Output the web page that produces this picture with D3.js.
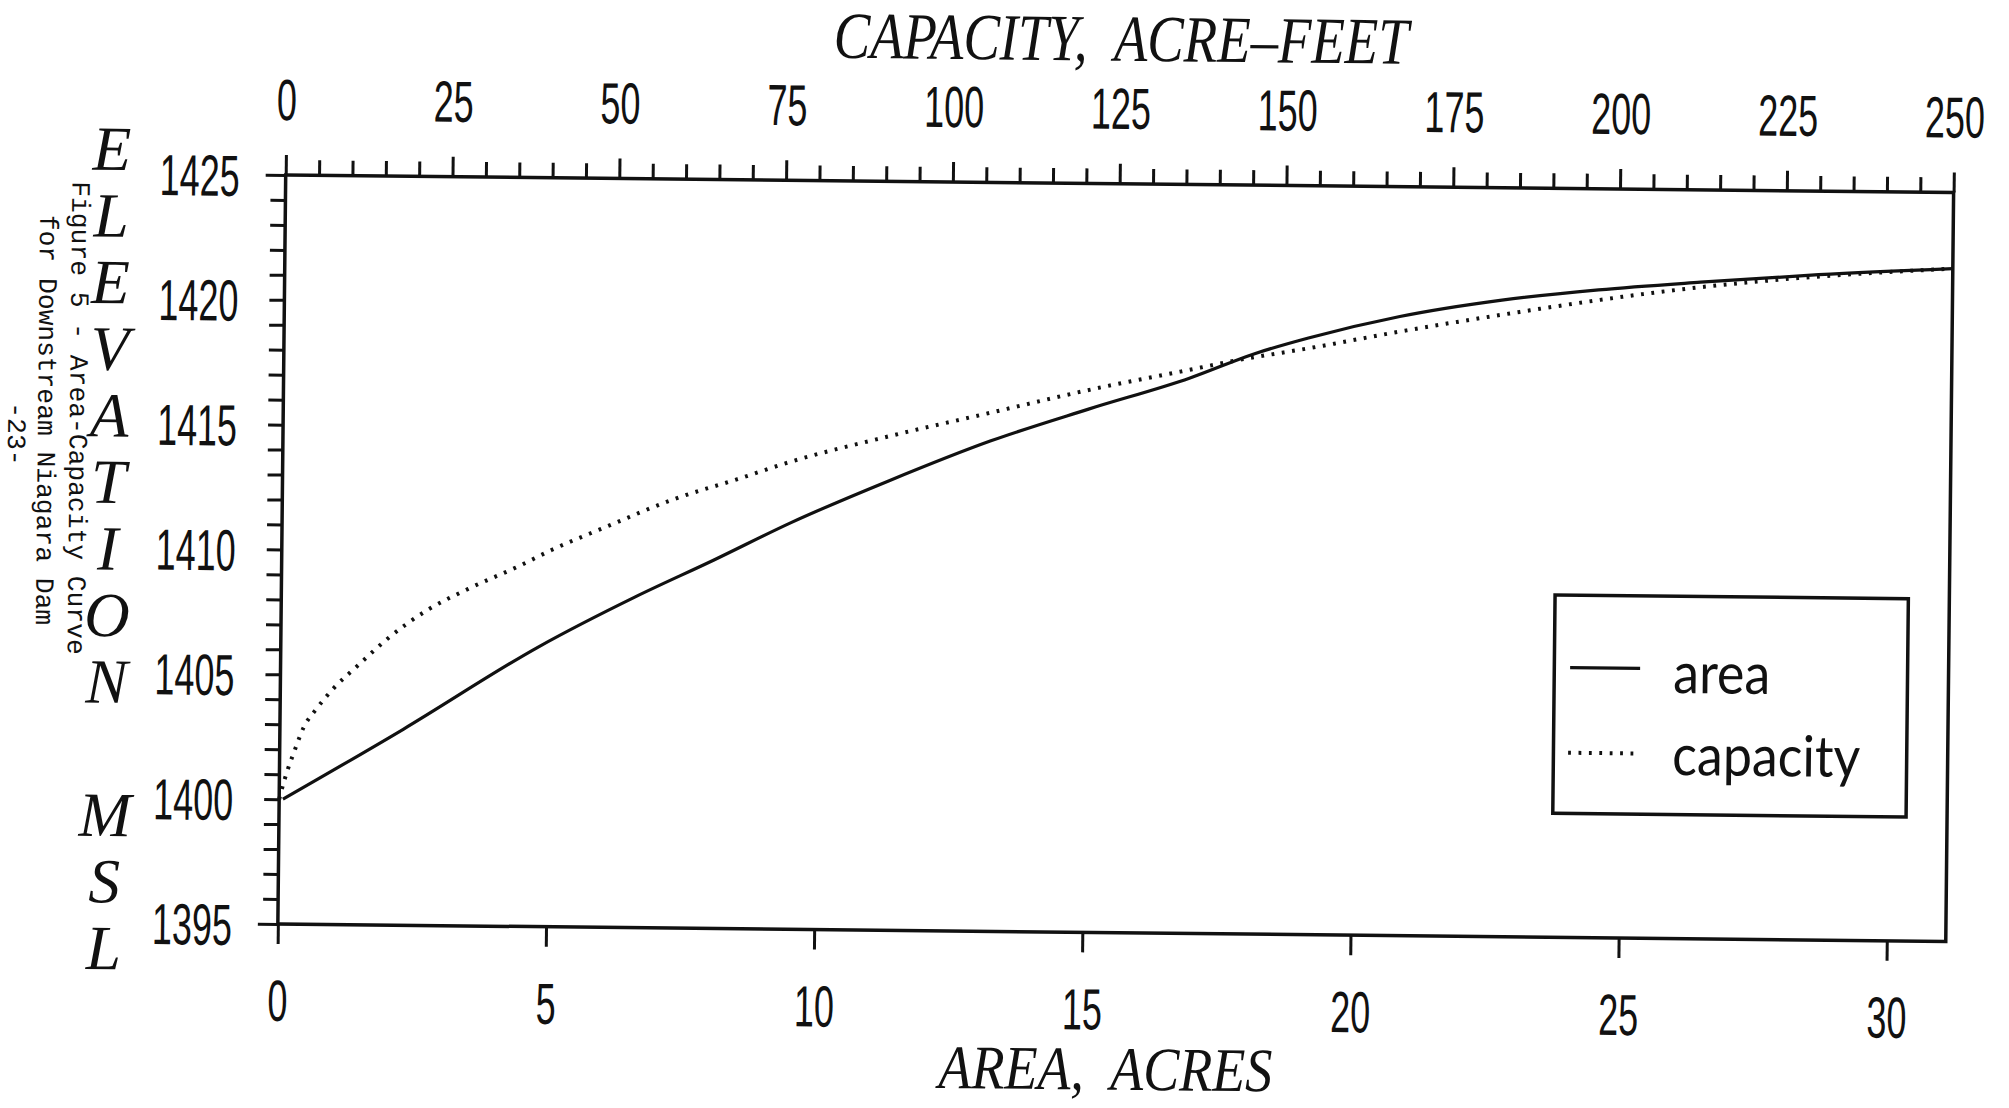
<!DOCTYPE html>
<html>
<head>
<meta charset="utf-8">
<script src="https://cdn.jsdelivr.net/npm/d3@7"></script>
<style>
  html, body { margin: 0; padding: 0; background: #fff; }
  svg { display: block; }
</style>
</head>
<body>
<svg id="chart" width="2009" height="1108"></svg>
<script>
// Surface area of the pool (acres) against water-surface elevation (ft MSL)
const areaAcres = [0.07, 2.3, 4.8, 6.6, 8.05, 9.5, 11.3, 13.2, 15.0, 16.9, 18.1, 19.1, 20.8, 22.7, 24.5, 26.4, 28.6, 31.1];
const areaElev  = [1400.0, 1402.85, 1406.2, 1408.25, 1409.75, 1411.3, 1413.0, 1414.65, 1415.95, 1417.25, 1418.25, 1418.9, 1419.8, 1420.5, 1420.95, 1421.3, 1421.65, 1421.95];

// Storage capacity (acre-feet) against water-surface elevation (ft MSL)
const capacityAcreFt = [0, 0.84, 2.3, 3.5, 5.5, 7.95, 11.65, 15.9, 22.0, 28.0, 35.7, 40.5, 48.2, 58.9, 68.1, 75.8, 91.0, 106.4, 121.9, 134.4, 143.3, 153.8, 167.3, 182.2, 197.2, 212.2, 224.6, 250];
const capacityElev   = [1400.0, 1400.84, 1402.0, 1402.85, 1403.65, 1404.45, 1405.4, 1406.45, 1407.65, 1408.5, 1409.45, 1410.1, 1411.0, 1412.2, 1413.0, 1413.7, 1414.8, 1415.8, 1416.8, 1417.5, 1418.0, 1418.5, 1419.2, 1419.9, 1420.55, 1421.1, 1421.45, 1421.95];

// Axis ticks and labels
const areaTicks = [0, 5, 10, 15, 20, 25, 30];
const capacityTicks = d3.range(0, 251, 5);
const elevTicks = d3.range(1395, 1426, 1);
const areaMax = 31.1;
const capacityMax = 250;
const elevDomain = [1395, 1425];

const topTitle = "CAPACITY,  ACRE\u2013FEET";
const bottomTitle = "AREA,  ACRES";
const sideTitle = "ELEVATION MSL";
const legendLabels = ["area", "capacity"];
const captionLines = ["Figure 5 - Area-Capacity Curve", "for Downstream Niagara Dam", "-23-"];

// ---- layout ----
const frame = { x: 285.7, y: 175, w: 1668, h: 749 };
const tilt = 0.6;          // the sheet sits slightly askew
const ink = "#111";
const numFont = "'Liberation Sans', Arial, sans-serif";
const serifFont = "'Liberation Serif', 'Times New Roman', serif";
const narrow = 0.62;       // condensed numerals
const dotted = "2.8 7.6";

const svg = d3.select("#chart");
svg.append("rect").attr("width", 2009).attr("height", 1108).attr("fill", "#fff");

const page = svg.append("g")
  .attr("transform", `rotate(${tilt},${frame.x},${frame.y})`);
const plot = page.append("g")
  .attr("transform", `translate(${frame.x},${frame.y})`);

const x = d3.scaleLinear().domain([0, areaMax]).range([0, frame.w]);
const xc = d3.scaleLinear().domain([0, capacityMax]).range([0, frame.w]);
const y = d3.scaleLinear().domain(elevDomain).range([frame.h, 0]);

function styleAxis(g) {
  g.select(".domain").remove();
  g.selectAll(".tick line").attr("stroke", ink).attr("stroke-width", 3);
  g.selectAll(".tick text")
    .attr("fill", ink)
    .style("font-family", numFont)
    .style("font-size", "58px");
}

// left: elevation
const gLeft = plot.append("g")
  .call(d3.axisLeft(y).tickValues(elevTicks).tickSize(15)
    .tickFormat(d => d % 5 === 0 ? d : ""));
styleAxis(gLeft);
gLeft.selectAll(".tick line").filter(d => d === 1395 || d === 1425).attr("x2", -20);
gLeft.selectAll(".tick text")
  .attr("x", -46 / narrow).attr("dy", "0.36em")
  .attr("transform", `scale(${narrow},1)`);

// top: capacity
const gTop = plot.append("g")
  .call(d3.axisTop(xc).tickValues(capacityTicks).tickSize(15)
    .tickFormat(d => d % 25 === 0 ? d : ""));
styleAxis(gTop);
gTop.selectAll(".tick line").filter(d => d % 25 === 0).attr("y2", -20);
gTop.selectAll(".tick text")
  .attr("y", -55).attr("dy", "0")
  .attr("transform", `scale(${narrow},1)`);

// bottom: area
const gBottom = plot.append("g")
  .attr("transform", `translate(0,${frame.h})`)
  .call(d3.axisBottom(x).tickValues(areaTicks).tickSize(20));
styleAxis(gBottom);
gBottom.selectAll(".tick text")
  .attr("y", 97).attr("dy", "0")
  .attr("transform", `scale(${narrow},1)`);

// frame
plot.append("rect")
  .attr("x", 0).attr("y", 0).attr("width", frame.w).attr("height", frame.h)
  .attr("fill", "none").attr("stroke", ink).attr("stroke-width", 3.5);

// curves
const areaData = areaAcres.map((v, i) => ({ v, e: areaElev[i] }));
const capData = capacityAcreFt.map((v, i) => ({ v, e: capacityElev[i] }));

plot.append("path")
  .datum(areaData)
  .attr("d", d3.line().x(d => x(d.v)).y(d => y(d.e)).curve(d3.curveMonotoneX))
  .attr("fill", "none").attr("stroke", ink).attr("stroke-width", 3.2);

plot.append("path")
  .datum(capData)
  .attr("d", d3.line().x(d => xc(d.v)).y(d => y(d.e)).curve(d3.curveMonotoneX))
  .attr("fill", "none").attr("stroke", ink).attr("stroke-width", 4)
  .attr("stroke-dasharray", dotted);

// axis titles
plot.append("text")
  .attr("x", frame.w / 2).attr("y", -123)
  .attr("text-anchor", "middle")
  .attr("textLength", 575).attr("lengthAdjust", "spacingAndGlyphs")
  .style("white-space", "pre")
  .style("font-family", serifFont).style("font-style", "italic").style("font-size", "66px")
  .attr("fill", ink)
  .text(topTitle);

plot.append("text")
  .attr("x", 829).attr("y", 906)
  .attr("text-anchor", "middle")
  .attr("textLength", 334).attr("lengthAdjust", "spacingAndGlyphs")
  .style("white-space", "pre")
  .style("font-family", serifFont).style("font-style", "italic").style("font-size", "62px")
  .attr("fill", ink)
  .text(bottomTitle);

// stacked side title
const sideLetters = Array.from(sideTitle)
  .map((ch, k) => ({ ch, k }))
  .filter(d => d.ch !== " ");
plot.append("g").selectAll("text")
  .data(sideLetters)
  .join("text")
  .attr("x", -174)
  .attr("y", d => -3.2 + 66.6 * d.k)
  .attr("text-anchor", "middle")
  .style("font-family", serifFont).style("font-style", "italic").style("font-size", "63px")
  .attr("fill", ink)
  .text(d => d.ch);

// figure caption along the margin
const captionPos = [[-206.2, 245.2], [-238.1, 247.5], [-268, 261.8]];
plot.append("g").selectAll("text")
  .data(captionLines)
  .join("text")
  .attr("transform", (d, i) => `translate(${captionPos[i][0]},${captionPos[i][1]}) rotate(90)`)
  .attr("text-anchor", "middle")
  .attr("dominant-baseline", "central")
  .style("white-space", "pre")
  .style("font-family", "'Liberation Mono', 'Courier New', monospace")
  .style("font-size", "26.3px")
  .attr("fill", ink)
  .text(d => d);

// legend
const legend = plot.append("g");
legend.append("rect")
  .attr("x", 1273.7).attr("y", 406.7).attr("width", 353.3).attr("height", 218.3)
  .attr("fill", "#fff").attr("stroke", ink).attr("stroke-width", 3.5);
legend.append("line")
  .attr("x1", 1289.5).attr("x2", 1359.5).attr("y1", 479.2).attr("y2", 479.2)
  .attr("stroke", ink).attr("stroke-width", 3.2);
legend.append("line")
  .attr("x1", 1288.4).attr("x2", 1356).attr("y1", 564.3).attr("y2", 564.3)
  .attr("stroke", ink).attr("stroke-width", 4).attr("stroke-dasharray", dotted);
const legendText = [[1392.7, 503.5, 97], [1392.6, 585.5, 188]];
legend.selectAll("text.lab")
  .data(legendLabels)
  .join("text")
  .attr("class", "lab")
  .attr("x", (d, i) => legendText[i][0])
  .attr("y", (d, i) => legendText[i][1])
  .attr("textLength", (d, i) => legendText[i][2])
  .attr("lengthAdjust", "spacingAndGlyphs")
  .style("font-family", "Lato, 'DejaVu Sans', sans-serif")
  .style("font-size", "57px")
  .attr("fill", ink)
  .text(d => d);
</script>
</body>
</html>
